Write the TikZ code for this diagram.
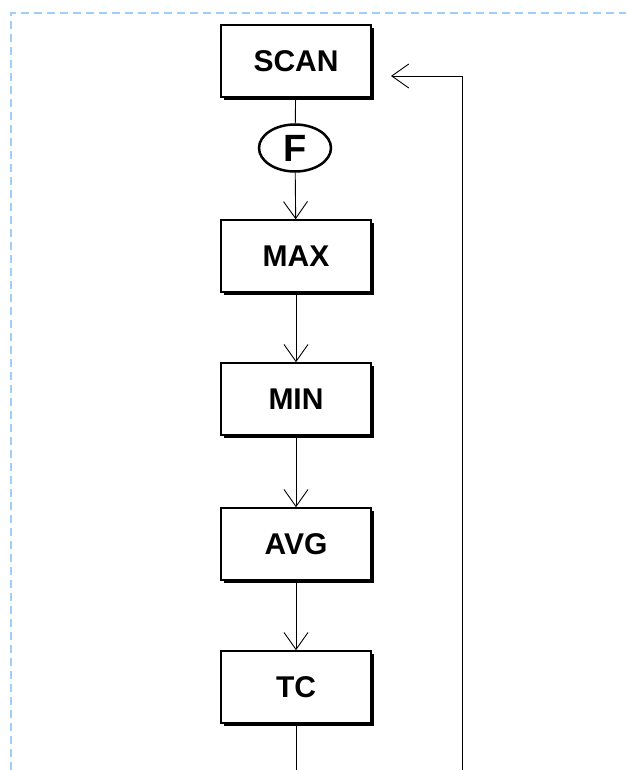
\documentclass[tikz,border=0pt]{standalone}
\usepackage{fontspec}
\setmainfont{Liberation Sans}
\usetikzlibrary{arrows.meta,positioning,shadows,shapes.geometric}

\tikzset{
	blockbox/.style={draw,line width=1.5pt,fill=white,minimum width=150pt,minimum height=72pt,
		inner sep=0pt,font=\fontsize{30}{32}\selectfont\bfseries,
		drop shadow={shadow xshift=3pt,shadow yshift=-3pt,fill=black,opacity=1}},
	flow/.style={line width=0.9pt,-{Straight Barb[length=17pt,width=24pt,line width=0.9pt]}},
	plain/.style={line width=0.9pt},
}

\begin{document}
\begin{tikzpicture}[x=1pt,y=-1pt]
	\useasboundingbox (0,0) rectangle (626,770);
	% frame
	\draw[dashed,line width=1.5pt,color={rgb,255:red,160;green,205;blue,250},dash pattern=on 8pt off 5pt]
		(11,770) -- (11,13) -- (626,13);
	
	% blocks
	\node[blockbox] (scan) at (296,61) {SCAN};
	\node[draw,ellipse,line width=2.5pt,minimum width=72pt,minimum height=47pt,inner sep=0pt,
		font=\fontsize{38}{38}\selectfont\bfseries] (f) at (295,148) {F};
	\node[blockbox] (max) at (296,256) {MAX};
	\node[blockbox] (min) at (296,399) {MIN};
	\node[blockbox] (avg) at (296,544) {AVG};
	\node[blockbox] (tc) at (296,687) {TC};
	
	\draw[plain] (scan) -- (f);
	\draw[flow] (f) -- (max);
	\draw[flow] (max) -- (min);
	\draw[flow] (min) -- (avg);
	\draw[flow] (avg) -- (tc);
	
	% going on below
	\coordinate (tcout) at (296,770);
	\draw[plain] (tc) -- (tcout);
	
	% back to scan
	\coordinate (loopend) at (462,770);
	\coordinate (loopin) at (391,76);
	\draw[flow] (loopend) |- (loopin);
\end{tikzpicture}
\end{document}
